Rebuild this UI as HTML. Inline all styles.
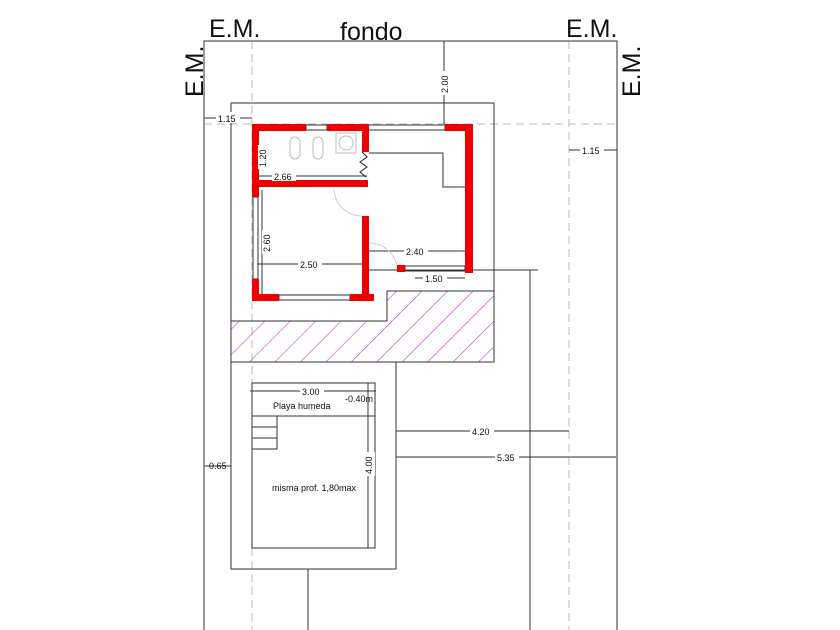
<!DOCTYPE html>
<html><head><style>
html,body{margin:0;padding:0;background:#fff;}
svg{display:block;}
text{font-family:"Liberation Sans",sans-serif;fill:#111;}
</style></head><body>
<svg width="840" height="630" viewBox="0 0 840 630" xmlns="http://www.w3.org/2000/svg">
<defs>
<pattern id="h" patternUnits="userSpaceOnUse" width="18" height="18" patternTransform="rotate(45)">
<line x1="0" y1="0" x2="0" y2="18" stroke="#c040c0" stroke-width="1.2"/>
</pattern>
</defs>
<!-- dashed guides -->
<g stroke="#bbb" stroke-width="1" stroke-dasharray="8,5" fill="none">
<line x1="252" y1="41" x2="252" y2="630"/>
<line x1="569" y1="41" x2="569" y2="630"/>
<line x1="204" y1="124" x2="617" y2="124"/>
</g>
<!-- hatch -->
<path d="M231 321 H387 V291 H494 V362 H231 Z" fill="url(#h)"/>
<g stroke="#333" stroke-width="1" fill="none">
<!-- lot -->
<polyline points="204,630 204,41 617,41 617,630"/>
<line x1="530" y1="270" x2="530" y2="630"/>
<!-- building outline -->
<path d="M231 103 H494 V362 H231 V103"/>
<path d="M231 321 H387 V291 H494"/>
<!-- pool surround -->
<rect x="231" y="362" width="165" height="207"/>
<rect x="252" y="383" width="123" height="165"/>
<line x1="252" y1="416" x2="375" y2="416"/>
<rect x="252" y="416" width="25" height="33"/>
<line x1="252" y1="427" x2="277" y2="427"/>
<line x1="252" y1="438" x2="277" y2="438"/>
<line x1="308" y1="569" x2="308" y2="630"/>
<!-- kitchen counter -->
<polyline points="369,153 443,153 443,187 465,187"/>
<!-- windows -->
<rect x="306" y="125" width="21" height="5"/>
<rect x="368" y="125" width="77" height="5"/>
<rect x="253" y="197" width="5" height="82"/>
<rect x="279" y="295" width="71" height="5"/>
<rect x="405" y="266" width="60" height="5"/>
<line x1="369" y1="270" x2="538" y2="270"/>
<!-- dimensions -->
<line x1="444" y1="41" x2="444" y2="124"/>
<line x1="420" y1="41" x2="452" y2="41"/>
<line x1="204" y1="118" x2="252" y2="118"/>
<line x1="569" y1="150" x2="617" y2="150"/>
<line x1="257" y1="131" x2="257" y2="180"/>
<line x1="259" y1="176" x2="367" y2="176"/>
<line x1="262" y1="190" x2="262" y2="294"/>
<line x1="257" y1="264" x2="362" y2="264"/>
<line x1="369" y1="251" x2="465" y2="251"/>
<line x1="415" y1="278" x2="465" y2="278"/>
<line x1="250" y1="391" x2="376" y2="391"/>
<line x1="368" y1="383" x2="368" y2="548"/>
<line x1="396" y1="431" x2="569" y2="431"/>
<line x1="396" y1="457" x2="616" y2="457"/>
<line x1="396" y1="425" x2="396" y2="460"/>
<line x1="204" y1="466" x2="231" y2="466"/>
</g>
<!-- door arcs -->
<g stroke="#ccc" fill="none" stroke-width="1">
<path d="M334 190 A28 28 0 0 0 362 216"/>
<path d="M369 243 A28 28 0 0 1 397 266"/>
</g>
<!-- fixtures -->
<g stroke="#bbb" fill="none">
<rect x="290" y="137" width="10" height="22" rx="5"/>
<rect x="313" y="137" width="10" height="22" rx="5"/>
<rect x="336" y="133" width="20" height="20"/>
<circle cx="346" cy="143" r="7"/>
</g>
<polyline points="362,152 367,157 360,162 367,167 360,172 366,177" stroke="#222" fill="none"/>
<!-- red walls -->
<g fill="#ee0000">
<rect x="252" y="124" width="54" height="7"/>
<rect x="327" y="124" width="41" height="7"/>
<rect x="445" y="124" width="28" height="7"/>
<rect x="465" y="124" width="8" height="149"/>
<rect x="252" y="124" width="7" height="73"/>
<rect x="252" y="279" width="7" height="22"/>
<rect x="252" y="294" width="27" height="7"/>
<rect x="350" y="294" width="24" height="7"/>
<rect x="362" y="124" width="7" height="28"/>
<rect x="362" y="216" width="7" height="85"/>
<rect x="259" y="180" width="109" height="7"/>
<rect x="397" y="265" width="8" height="7"/>
</g>
<!-- dim labels -->
<g font-size="9">
<rect x="216" y="112" width="24" height="11" fill="#fff"/>
<text x="218" y="122">1.15</text>
<rect x="580" y="144" width="24" height="11" fill="#fff"/>
<text x="582" y="154">1.15</text>
<rect x="272" y="170" width="24" height="11" fill="#fff"/>
<text x="274" y="180">2.66</text>
<rect x="298" y="258" width="24" height="11" fill="#fff"/>
<text x="300" y="268">2.50</text>
<rect x="404" y="245" width="24" height="11" fill="#fff"/>
<text x="406" y="255">2.40</text>
<rect x="423" y="272" width="24" height="11" fill="#fff"/>
<text x="425" y="282">1.50</text>
<rect x="300" y="385" width="24" height="11" fill="#fff"/>
<text x="302" y="395">3.00</text>
<rect x="470" y="425" width="24" height="11" fill="#fff"/>
<text x="472" y="435">4.20</text>
<rect x="495" y="451" width="24" height="11" fill="#fff"/>
<text x="497" y="461">5.35</text>
<text x="209" y="469">0.65</text>
<text x="345" y="402">-0.40m</text>
<text x="273" y="409">Playa humeda</text>
<text x="272" y="491">misma prof. 1,80max</text>
<g transform="translate(448,93) rotate(-90)"><rect x="-2" y="-8" width="24" height="11" fill="#fff"/><text x="0" y="0">2.00</text></g>
<g transform="translate(266,167) rotate(-90)"><rect x="-2" y="-8" width="24" height="11" fill="#fff"/><text x="0" y="0">1.20</text></g>
<g transform="translate(270,252) rotate(-90)"><rect x="-2" y="-8" width="24" height="11" fill="#fff"/><text x="0" y="0">2.60</text></g>
<g transform="translate(372,474) rotate(-90)"><rect x="-2" y="-8" width="24" height="11" fill="#fff"/><text x="0" y="0">4.00</text></g>
</g>
<!-- big labels -->
<g font-size="25">
<text x="209" y="37">E.M.</text>
<text x="340" y="40">fondo</text>
<text x="566" y="37">E.M.</text>
<text transform="translate(203,97) rotate(-90)">E.M.</text>
<text transform="translate(640,97) rotate(-90)">E.M.</text>
</g>
</svg>
</body></html>
